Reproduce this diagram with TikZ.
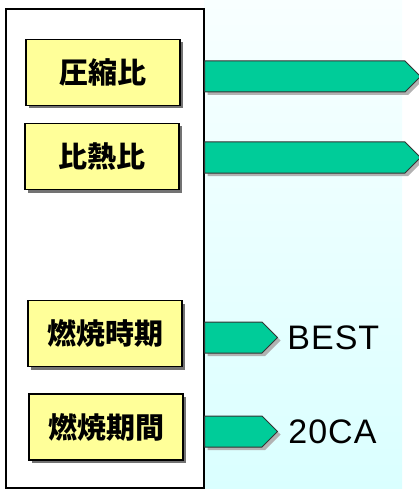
\documentclass[tikz,border=0pt]{standalone}
\usepackage{fontspec}
\setsansfont{Liberation Sans}[LetterSpace=3]
\newfontfamily\jpfont{Noto Sans CJK JP}
\usetikzlibrary{shapes.symbols, positioning, shadows}
\definecolor{bgtop}{RGB}{248,255,255}
\definecolor{bgbot}{RGB}{218,255,255}
\definecolor{boxfill}{RGB}{255,255,153}
\definecolor{arrowfill}{RGB}{0,204,153}
\tikzset{
  parambox/.style={rectangle,fill=boxfill,draw=black,line width=1.6pt,
    minimum width=154pt,minimum height=66pt,inner sep=0pt,
    font=\jpfont\bfseries\fontsize{29}{29}\selectfont,
    drop shadow={shadow xshift=3pt,shadow yshift=-3pt,fill=black!55,opacity=1}},
  pointer/.style={signal,signal to=east,signal pointer angle=90,fill=arrowfill,
    draw=black!80,line width=1pt,minimum height=31pt,inner sep=0pt,anchor=west,
    drop shadow={shadow xshift=3pt,shadow yshift=-3pt,fill=black!30,opacity=1}},
  valtext/.style={inner sep=0pt,font=\sffamily\fontsize{34}{34}\selectfont}
}

\begin{document}
\begin{tikzpicture}[x=1pt,y=-1pt]
  \useasboundingbox (0,0) rectangle (418,489);

  % Background
  \shade[top color=bgtop,bottom color=bgbot] (204,0) rectangle (402,489);

  % Panel
  \draw[fill=white,line width=1.8pt] (6,9) rectangle (204,488);

  % Parameters
  \node[parambox] (comp) at (103,72.5) {圧縮比};
  \node[parambox] (heat) at (102,156.5) {比熱比};
  \node[parambox] (timing) at (105,333.5) {燃焼時期};
  \node[parambox] (period) at (106,427) {燃焼期間};

  % Arrows
  \node[pointer,minimum width=216pt] (ar1) at (204,76.5) {};
  \node[pointer,minimum width=216pt] (ar2) at (204,157.5) {};
  \node[pointer,minimum width=73pt] (ar3) at (204,337.5) {};
  \node[pointer,minimum width=73pt] (ar4) at (204,431.5) {};

  % Values
  \node[valtext,right=9pt of ar3] (best) {BEST};
  \node[valtext,right=10pt of ar4] (ca) {20CA};

\end{tikzpicture}
\end{document}
